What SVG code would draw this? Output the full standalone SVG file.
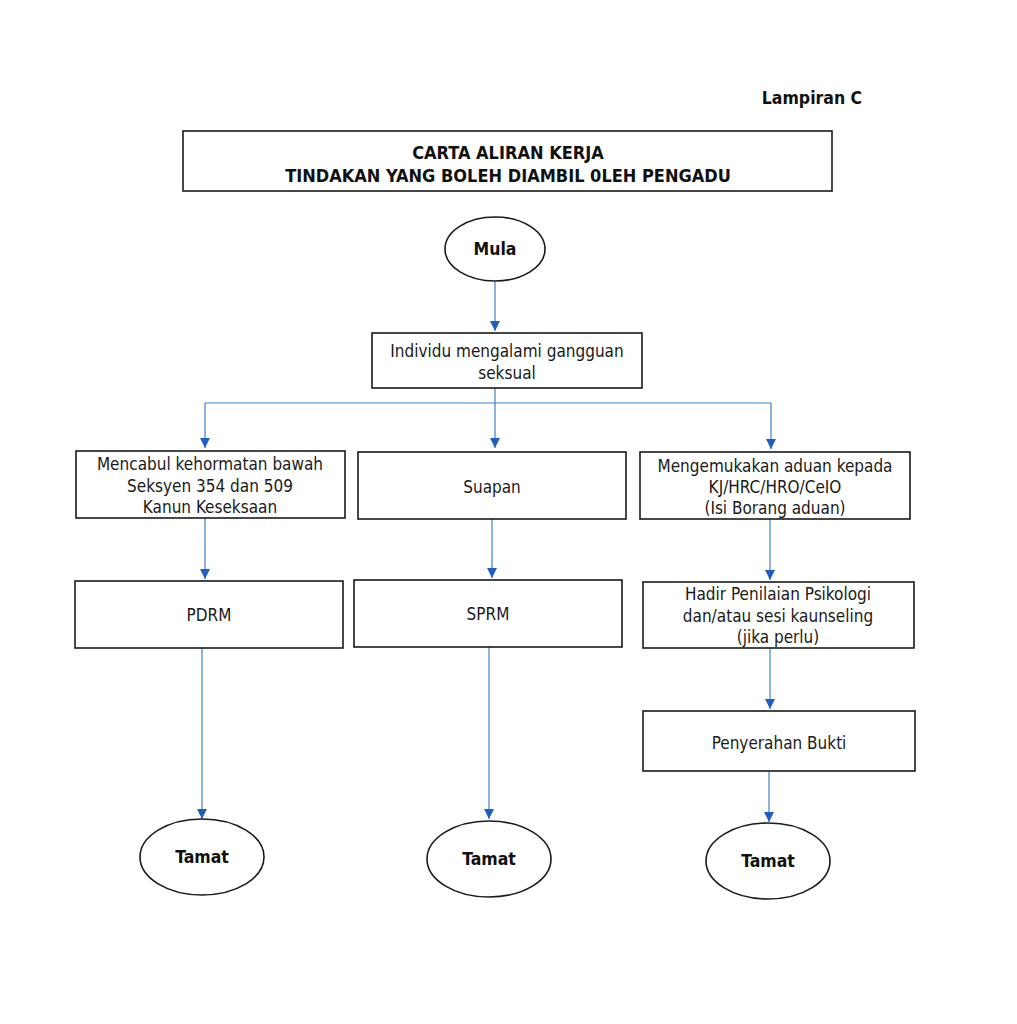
<svg xmlns="http://www.w3.org/2000/svg" width="1017" height="1024" viewBox="0 0 1017 1024">
<style>
.box{fill:#fff;stroke:#1a1a1a;stroke-width:1.6}
.t{font-family:"DejaVu Sans Condensed","DejaVu Sans",sans-serif;font-size:17px;fill:#1a1a1a;text-anchor:middle}
.b{font-family:"DejaVu Sans Condensed","DejaVu Sans",sans-serif;font-size:17.5px;font-weight:bold;fill:#111;text-anchor:middle}
.h{font-size:18px}
.c{fill:none;stroke:#3d80c8;stroke-width:1.2}
</style>
<defs>
<marker id="ah" viewBox="0 0 10 10" refX="10" refY="5" markerWidth="10" markerHeight="10" markerUnits="userSpaceOnUse" orient="auto">
<path d="M0,0 L10,5 L0,10 z" fill="#1f5fbf"/>
</marker>
</defs>
<rect width="1017" height="1024" fill="#fff"/>
<text id="lampiran" class="b" x="812" y="104">Lampiran C</text>
<g id="title">
<rect class="box" x="183" y="131" width="649" height="60"/>
<text class="b h" x="508" y="159">CARTA ALIRAN KERJA</text>
<text class="b h" x="508" y="182">TINDAKAN YANG BOLEH DIAMBIL 0LEH PENGADU</text>
</g>
<g id="connectors">
<path class="c" d="M495,281 V331" marker-end="url(#ah)"/>
<path class="c" d="M495,388 V448" marker-end="url(#ah)"/>
<path class="c" d="M205,403 H771"/>
<path class="c" d="M205,403 V448" marker-end="url(#ah)"/>
<path class="c" d="M771,403 V449" marker-end="url(#ah)"/>
<path class="c" d="M205,518 V579" marker-end="url(#ah)"/>
<path class="c" d="M492,519 V578" marker-end="url(#ah)"/>
<path class="c" d="M770,519 V580" marker-end="url(#ah)"/>
<path class="c" d="M770,648 V709" marker-end="url(#ah)"/>
<path class="c" d="M202,648 V819" marker-end="url(#ah)"/>
<path class="c" d="M489,647 V819" marker-end="url(#ah)"/>
<path class="c" d="M769,771 V822" marker-end="url(#ah)"/>
</g>
<g id="mula">
<ellipse class="box" cx="495" cy="249" rx="50" ry="32"/>
<text class="b" x="495" y="255">Mula</text>
</g>
<g id="individu">
<rect class="box" x="372" y="333" width="270" height="55"/>
<text class="t" x="507" y="357">Individu mengalami gangguan</text>
<text class="t" x="507" y="379">seksual</text>
</g>
<g id="mencabul">
<rect class="box" x="76" y="451" width="269" height="67"/>
<text class="t" x="210" y="470">Mencabul kehormatan bawah</text>
<text class="t" x="210" y="492">Seksyen 354 dan 509</text>
<text class="t" x="210" y="513">Kanun Keseksaan</text>
</g>
<g id="suapan">
<rect class="box" x="358" y="452" width="268" height="67"/>
<text class="t" x="492" y="493">Suapan</text>
</g>
<g id="aduan">
<rect class="box" x="640" y="452" width="270" height="67"/>
<text class="t" x="775" y="472">Mengemukakan aduan kepada</text>
<text class="t" x="775" y="493">KJ/HRC/HRO/CeIO</text>
<text class="t" x="775" y="514">(Isi Borang aduan)</text>
</g>
<g id="pdrm">
<rect class="box" x="75" y="581" width="268" height="67"/>
<text class="t" x="209" y="621">PDRM</text>
</g>
<g id="sprm">
<rect class="box" x="354" y="580" width="268" height="67"/>
<text class="t" x="488" y="620">SPRM</text>
</g>
<g id="hadir">
<rect class="box" x="643" y="582" width="271" height="66"/>
<text class="t" x="778" y="600">Hadir Penilaian Psikologi</text>
<text class="t" x="778" y="622">dan/atau sesi kaunseling</text>
<text class="t" x="778" y="643">(jika perlu)</text>
</g>
<g id="penyerahan">
<rect class="box" x="643" y="711" width="272" height="60"/>
<text class="t" x="779" y="749">Penyerahan Bukti</text>
</g>
<g id="tamat1">
<ellipse class="box" cx="202" cy="857" rx="62" ry="38"/>
<text class="b" x="202" y="863">Tamat</text>
</g>
<g id="tamat2">
<ellipse class="box" cx="489" cy="859" rx="62" ry="38"/>
<text class="b" x="489" y="865">Tamat</text>
</g>
<g id="tamat3">
<ellipse class="box" cx="768" cy="861" rx="62" ry="38"/>
<text class="b" x="768" y="867">Tamat</text>
</g>
</svg>
